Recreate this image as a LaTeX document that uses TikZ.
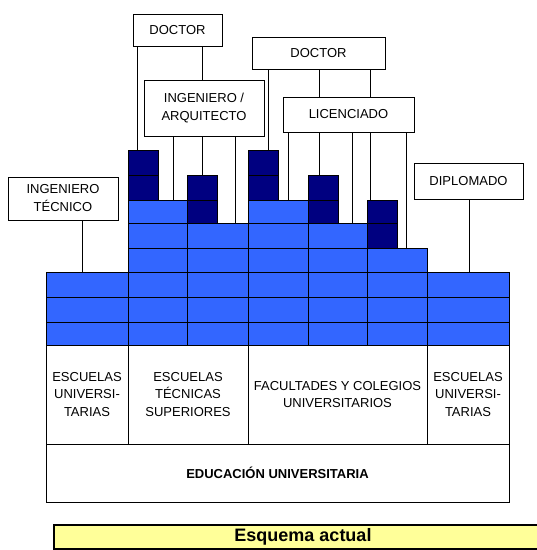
\documentclass[tikz,border=0pt]{standalone}
\usepackage{fontspec}
\setmainfont{Liberation Sans}
\definecolor{planblue}{RGB}{51,102,255}
\definecolor{plannavy}{RGB}{0,0,128}
\definecolor{planyellow}{RGB}{255,255,153}

\begin{document}
\begin{tikzpicture}[x=1pt,y=-1pt,line width=1pt,
    titulo/.style={draw, fill=white, align=center, inner sep=0pt, font=\fontsize{13}{18}\selectfont},
    celda/.style={draw, align=center, inner sep=0pt, minimum height=99pt, font=\fontsize{13}{17.5}\selectfont}]
  \useasboundingbox (0,0) rectangle (537,550);

  % titulos
  \node[titulo, minimum width=89pt, minimum height=32pt] (doctorA) at (177.5,30) {DOCTOR};
  \node[titulo, minimum width=120pt, minimum height=56pt] (ingarq) at (204,108) {INGENIERO /\\ARQUITECTO};
  \node[titulo, minimum width=110pt, minimum height=43pt] (ingtec) at (63,198.5) {INGENIERO\\TÉCNICO};
  \node[titulo, minimum width=133pt, minimum height=32pt] (doctorB) at (318.5,53) {DOCTOR};
  \node[titulo, minimum width=131pt, minimum height=35pt] (licen) at (348.5,114.5) {LICENCIADO};
  \node[titulo, minimum width=109pt, minimum height=36pt] (diplo) at (468.5,181) {DIPLOMADO};

  % bloques azules
  \foreach \xa/\xb/\top in {46/128/272, 128/187/200, 187/248/223, 248/308/200, 308/367/223, 367/427/248, 427/509/272}
    \foreach \ya/\yb in {200/223, 223/248, 248/272, 272/297, 297/322, 322/345}
      {\ifnum\ya<\top\else \draw[fill=planblue] (\xa,\ya) rectangle (\xb,\yb); \fi}
  % bloques oscuros
  \foreach \xa/\ya/\yb in {128/150/175, 128/175/200, 187/175/200, 187/200/223, 248/150/175,
                           248/175/200, 308/175/200, 308/200/223, 367/200/223, 367/223/248}
    \draw[fill=plannavy] (\xa,\ya) rectangle (\xa+30,\yb);

  % puntos de llegada
  \coordinate (topA) at (82,272);
  \coordinate (topB) at (137,150);
  \coordinate (topBr) at (173,200);
  \coordinate (topC) at (202,175);
  \coordinate (topCr) at (235,223);
  \coordinate (topD) at (268,150);
  \coordinate (topDr) at (288,200);
  \coordinate (topE) at (319,175);
  \coordinate (topEr) at (352,223);
  \coordinate (topF) at (370,200);
  \coordinate (topFr) at (406,248);
  \coordinate (topG) at (469,272);

  \draw (doctorA.south -| topC) -- (ingarq.north -| topC);
  \draw (doctorB.south -| topE) -- (licen.north -| topE);
  \draw (doctorB.south -| topF) -- (licen.north -| topF);
  \foreach \de/\a in {doctorA/topB, ingarq/topBr, ingarq/topC, ingarq/topCr, ingtec/topA, doctorB/topD,
                      licen/topDr, licen/topE, licen/topEr, licen/topF, licen/topFr, diplo/topG}
    \draw (\de.south -| \a) -- (\a);

  % centros
  \node[celda, minimum width=82pt] (escuA) at (87,394.5) {ESCUELAS\\UNIVERSI-\\TARIAS};
  \node[celda, minimum width=120pt] (etsup) at (188,394.5) {ESCUELAS\\TÉCNICAS\\SUPERIORES};
  \node[celda, minimum width=179pt] (facul) at (337.5,394.5) {FACULTADES Y COLEGIOS\\UNIVERSITARIOS};
  \node[celda, minimum width=82pt] (escuB) at (468,394.5) {ESCUELAS\\UNIVERSI-\\TARIAS};
  \node[celda, minimum width=463pt, minimum height=58pt, font=\fontsize{13}{16}\selectfont\bfseries] (educ) at (277.5,473) {EDUCACIÓN UNIVERSITARIA};

  \node[draw, line width=1.8pt, fill=planyellow, minimum width=498pt, minimum height=24pt, inner sep=0pt,
        font=\fontsize{18}{20}\selectfont\bfseries] (esquema) at (303,537) {Esquema actual};
\end{tikzpicture}
\end{document}
